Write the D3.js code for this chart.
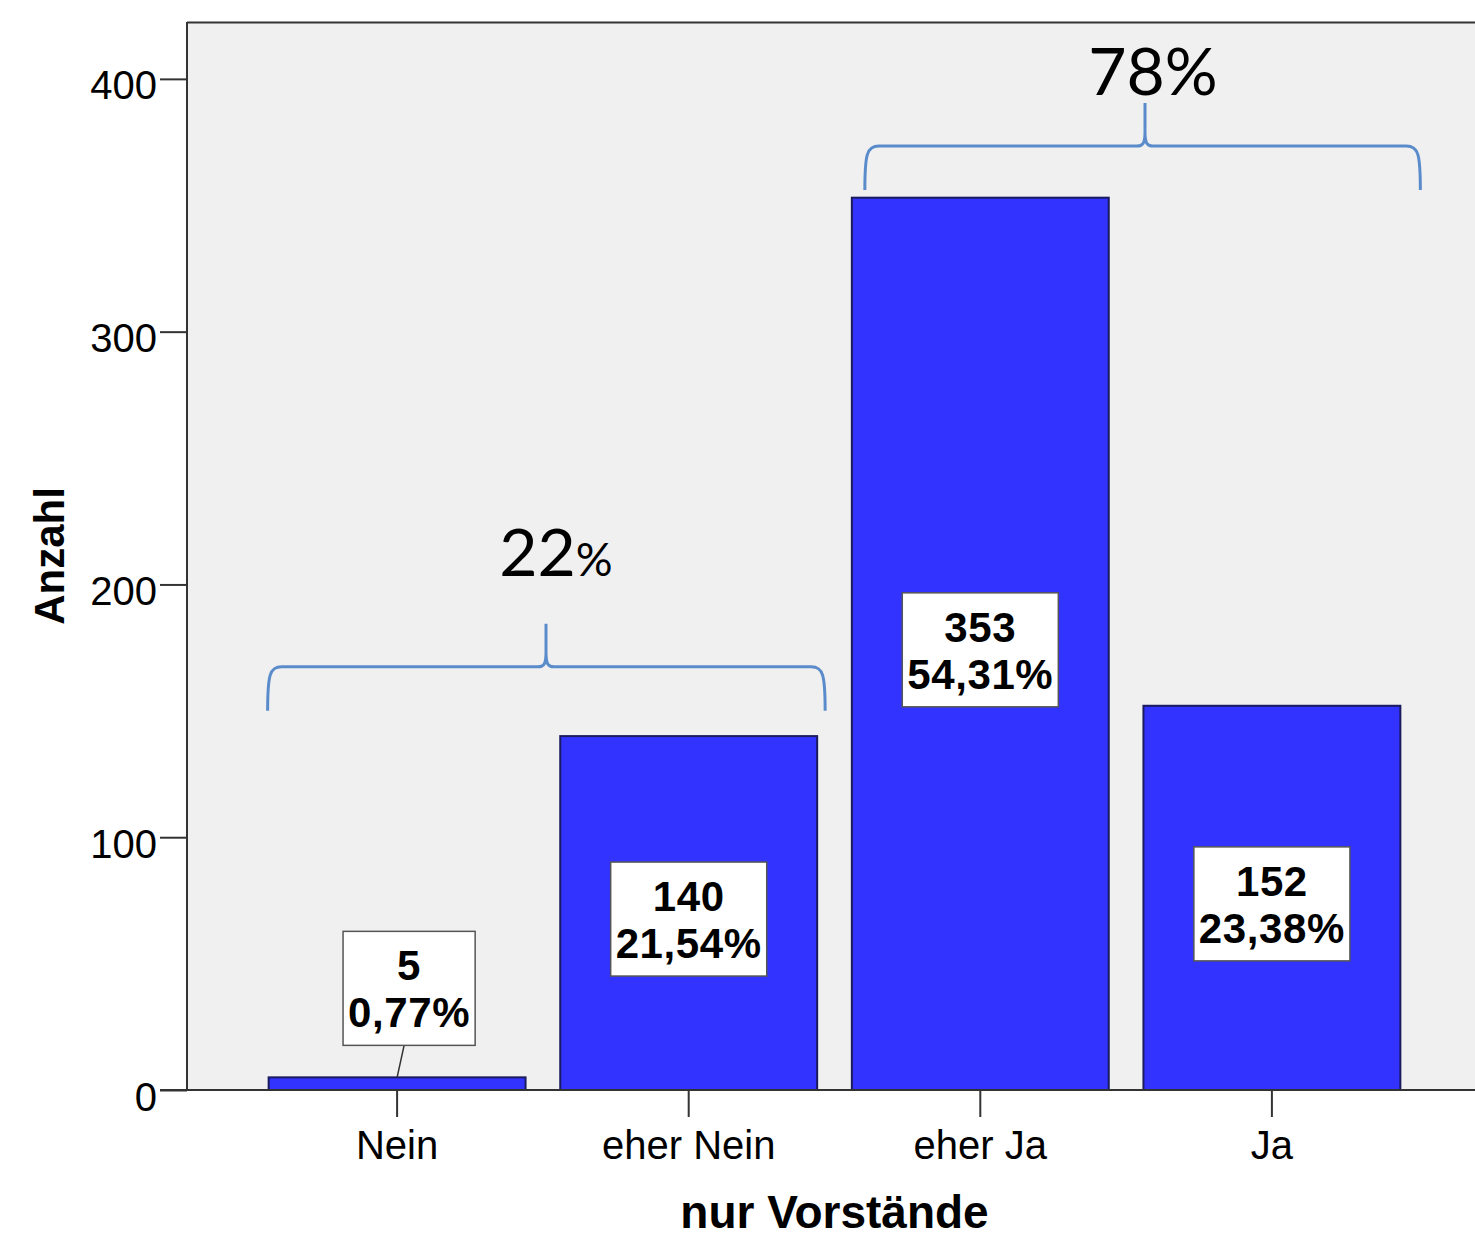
<!DOCTYPE html>
<html>
<head>
<meta charset="utf-8">
<script src="https://cdn.jsdelivr.net/npm/d3@7"></script>
<style>
  html, body { margin: 0; padding: 0; background: #fff; }
  svg { display: block; }
</style>
</head>
<body>
<svg id="chart" width="1475" height="1243"></svg>
<script>
// Antworten der Vorstände
const categories = ["Nein", "eher Nein", "eher Ja", "Ja"];
const counts = [5, 140, 353, 152];
const percentLabels = ["0,77%", "21,54%", "54,31%", "23,38%"];
const yTicks = [0, 100, 200, 300, 400];

// Zusammenfassende Klammern (Ebene in Anzahl)
const braceGroups = [
  { from: "Nein", to: "eher Nein", label: "22", level: 150 },
  { from: "eher Ja", to: "Ja", label: "78", level: 356 }
];

const svg = d3.select("#chart");
const plot = { left: 187, top: 22, bottom: 1090, right: 1482 };
const W = 1475;

const x = d3.scaleBand()
  .domain(categories)
  .range([plot.left, plot.right])
  .paddingInner(0.119)
  .paddingOuter(0.28);

const y = d3.scaleLinear()
  .domain([0, 422.5])
  .range([plot.bottom, plot.top]);

const sans = "'Liberation Sans', Arial, sans-serif";

// Plotbereich
svg.append("rect")
  .attr("x", plot.left).attr("y", plot.top)
  .attr("width", W - plot.left).attr("height", plot.bottom - plot.top)
  .attr("fill", "#f0f0f0");
svg.append("line")
  .attr("x1", plot.left).attr("x2", W)
  .attr("y1", plot.top + 0.5).attr("y2", plot.top + 0.5)
  .attr("stroke", "#333").attr("stroke-width", 2);
svg.append("line")
  .attr("x1", plot.left).attr("x2", plot.left)
  .attr("y1", plot.top).attr("y2", plot.bottom)
  .attr("stroke", "#333").attr("stroke-width", 2);

// Balken
const data = categories.map((c, i) => ({ cat: c, n: counts[i], pct: percentLabels[i] }));
svg.append("g").selectAll("rect")
  .data(data)
  .join("rect")
  .attr("x", d => x(d.cat))
  .attr("y", d => y(d.n))
  .attr("width", x.bandwidth())
  .attr("height", d => y(0) - y(d.n))
  .attr("fill", "#3333ff")
  .attr("stroke", "#1a1a5e")
  .attr("stroke-width", 2);

// y-Achse
const yAxis = d3.axisLeft(y).tickValues(yTicks).tickSize(27).tickPadding(3).tickFormat(d3.format("d"));
const gy = svg.append("g").attr("transform", `translate(${plot.left},0)`).call(yAxis);
gy.select(".domain").remove();
gy.selectAll(".tick line").attr("stroke", "#333").attr("stroke-width", 2);
gy.selectAll(".tick text")
  .attr("font-family", sans).attr("font-size", 40).attr("fill", "#000")
  .attr("dy", "0.5em");

// x-Achse
const xAxis = d3.axisBottom(x).tickSize(27).tickPadding(14);
const gx = svg.append("g").attr("transform", `translate(0,${plot.bottom})`).call(xAxis);
gx.select(".domain").remove();
gx.selectAll(".tick line").attr("stroke", "#333").attr("stroke-width", 2);
gx.selectAll(".tick text")
  .attr("font-family", sans).attr("font-size", 40).attr("fill", "#000")
  .attr("dy", "0.71em");
svg.append("line")
  .attr("x1", plot.left - 27).attr("x2", W)
  .attr("y1", plot.bottom).attr("y2", plot.bottom)
  .attr("stroke", "#333").attr("stroke-width", 2);

// Achsentitel
svg.append("text")
  .attr("x", (plot.left + plot.right) / 2).attr("y", 1228)
  .attr("text-anchor", "middle")
  .attr("font-family", sans).attr("font-weight", "bold").attr("font-size", 46)
  .text("nur Vorstände");
svg.append("text")
  .attr("transform", `translate(64,${(plot.top + plot.bottom) / 2}) rotate(-90)`)
  .attr("text-anchor", "middle")
  .attr("font-family", sans).attr("font-weight", "bold").attr("font-size", 42)
  .text("Anzahl");

// Wertbeschriftungen
const boxH = 114, fs = 42;
const labels = svg.append("g");
data.forEach(d => {
  const cx = x(d.cat) + x.bandwidth() / 2;
  const barTop = y(d.n);
  const inside = (y(0) - barTop) > boxH + 10;
  const g = labels.append("g");
  const rect = g.append("rect").attr("fill", "#fff").attr("stroke", "#555").attr("stroke-width", 1.5);
  const t1 = g.append("text").text(String(d.n));
  const t2 = g.append("text").text(d.pct);
  [t1, t2].forEach(t => t.attr("font-family", sans).attr("font-weight", "bold")
    .attr("font-size", fs).attr("text-anchor", "middle").attr("fill", "#000")
    .attr("letter-spacing", 0.6));
  const tw = Math.max(t1.node().getComputedTextLength(), t2.node().getComputedTextLength());
  const bw = tw + 10;
  let bx, top;
  if (inside) {
    bx = cx;
    top = (barTop + y(0)) / 2 + 6 - boxH / 2;
  } else {
    bx = cx + 12;
    top = barTop - 32 - boxH;
    g.insert("line", "rect")
      .attr("x1", bx - 5).attr("y1", top + boxH)
      .attr("x2", cx).attr("y2", barTop)
      .attr("stroke", "#333").attr("stroke-width", 1.5);
  }
  rect.attr("x", bx - bw / 2).attr("y", top).attr("width", bw).attr("height", boxH);
  t1.attr("x", bx).attr("y", top + 49);
  t2.attr("x", bx).attr("y", top + 96);
});

// Klammern mit Anteilen
const braceColor = "#5a8ccb";
braceGroups.forEach((b, i) => {
  const x0 = i === 0 ? x(b.from) - 1 : x(b.from) + 13;
  const x1 = i === 0 ? x(b.to) + x.bandwidth() + 8 : x(b.to) + x.bandwidth() + 20;
  const xm = i === 0 ? 546 : 1145;
  const yb = y(b.level);
  const yl = yb - 44;
  const yt = yl - 43;
  const r = 14;
  const p = d3.path();
  p.moveTo(x0, yb);
  p.bezierCurveTo(x0, yl + 8, x0 + 2, yl, x0 + r, yl);
  p.lineTo(xm - 8, yl);
  p.bezierCurveTo(xm - 2, yl, xm, yl - 3, xm, yl - 14);
  p.lineTo(xm, yt);
  p.moveTo(xm, yl - 14);
  p.bezierCurveTo(xm, yl - 3, xm + 2, yl, xm + 8, yl);
  p.lineTo(x1 - r, yl);
  p.bezierCurveTo(x1 - 2, yl, x1, yl + 8, x1, yb);
  svg.append("path").attr("d", p.toString())
    .attr("fill", "none").attr("stroke", braceColor).attr("stroke-width", 3);

  const txt = svg.append("text")
    .attr("x", xm + (i === 0 ? 10 : 8)).attr("y", yt - (i === 0 ? 48 : 8))
    .attr("text-anchor", "middle")
    .attr("font-family", "Lato, 'Open Sans', sans-serif")
    .attr("font-size", 66).attr("fill", "#000");
  txt.append("tspan").text(b.label);
  txt.append("tspan").attr("font-size", i === 0 ? 46 : 66).text("%");
});
</script>
</body>
</html>
